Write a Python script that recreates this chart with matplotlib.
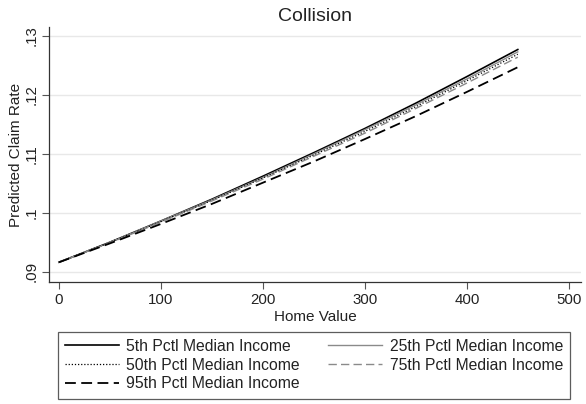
import matplotlib
matplotlib.use("Agg")
import matplotlib.pyplot as plt

plt.rcParams['font.family'] = ['Liberation Sans', 'DejaVu Sans']

# home value grid (x) and predicted claim rates
home_value = [0, 50, 100, 150, 200, 250, 300, 350, 400, 450]
p5 = [0.0916, 0.0950, 0.0986, 0.1023, 0.1062, 0.1102, 0.1143, 0.1186, 0.1231, 0.1277]
p25 = [0.0916, 0.0950, 0.0986, 0.1022, 0.1060, 0.1100, 0.1141, 0.1183, 0.1227, 0.1273]
p50 = [0.0916, 0.0950, 0.0985, 0.1021, 0.1059, 0.1098, 0.1138, 0.1180, 0.1224, 0.1269]
p75 = [0.0916, 0.0949, 0.0984, 0.1020, 0.1057, 0.1096, 0.1135, 0.1177, 0.1220, 0.1264]
p95 = [0.0916, 0.0948, 0.0981, 0.1015, 0.1051, 0.1087, 0.1125, 0.1164, 0.1205, 0.1247]

x_ticks = [0, 100, 200, 300, 400, 500]
y_ticks = [0.09, 0.10, 0.11, 0.12, 0.13]
y_tick_labels = ['.09', '.1', '.11', '.12', '.13']

fig = plt.figure(figsize=(5.86, 4.04), dpi=100)
ax = fig.add_axes([0.0841, 0.302, 0.9074, 0.630])

ax.plot(home_value, p5, color='black', lw=1.2, ls='-', label='5th Pctl Median Income')
ax.plot(home_value, p25, color='#8a8a8a', lw=1.0, ls='-', label='25th Pctl Median Income')
ax.plot(home_value, p50, color='black', lw=0.9, ls=(0, (1, 1.5)), label='50th Pctl Median Income')
ax.plot(home_value, p75, color='#8a8a8a', lw=1.0, ls=(0, (6, 3)), label='75th Pctl Median Income')
ax.plot(home_value, p95, color='black', lw=1.3, ls=(0, (6, 3)), label='95th Pctl Median Income')

ax.set_xlim(-9.5, 512)
ax.set_ylim(0.08825, 0.13144)
ax.set_xticks(x_ticks)
ax.set_yticks(y_ticks)
ax.set_yticklabels(y_tick_labels, rotation=90, va='center')
ax.tick_params(axis='both', direction='out', length=5, width=0.8, color='#555555',
               labelsize=10.8, labelcolor='#222222')
ax.tick_params(axis='y', pad=3)
ax.tick_params(axis='x', pad=3)

ax.grid(axis='y', color='#e8e8e8', lw=1.0)
ax.set_axisbelow(True)
for s in ['top', 'right']:
    ax.spines[s].set_visible(False)
for s in ['left', 'bottom']:
    ax.spines[s].set_color('#333333')
    ax.spines[s].set_linewidth(0.9)

ax.set_title('Collision', fontsize=14, color='#222222', pad=5)
ax.set_xlabel('Home Value', fontsize=11, color='#222222', labelpad=2)
ax.set_ylabel('Predicted Claim Rate', fontsize=11, color='#222222', labelpad=1)

# legend order: matplotlib fills column-wise
h, l = ax.get_legend_handles_labels()
order = [0, 2, 4, 1, 3]
leg = fig.legend([h[i] for i in order], [l[i] for i in order], ncol=2,
                 loc='center', bbox_to_anchor=(0.536, 0.0965),
                 fontsize=11.3, frameon=True, fancybox=False, handlelength=3.4,
                 handletextpad=0.5, columnspacing=1.8, labelspacing=0.25,
                 borderpad=0.45, edgecolor='#333333')
leg.get_frame().set_linewidth(0.9)
for t in leg.get_texts():
    t.set_color('#222222')

fig.savefig('out.png', dpi=100)
